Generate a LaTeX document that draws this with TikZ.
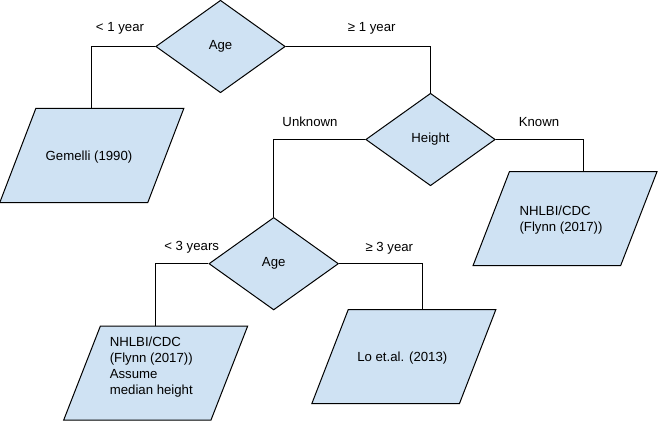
\documentclass[tikz,border=0pt]{standalone}
\usepackage{fontspec}
\setmainfont{Liberation Sans}
\usetikzlibrary{shapes.geometric,calc,backgrounds}
\definecolor{boxfill}{HTML}{CFE2F3}
\newcommand\paraback[2]{%
  \begin{scope}[on background layer]
    \filldraw[parashape] ($(#1.north west)+(#2,0)$) -- (#1.north east) -- ($(#1.south east)+(-#2,0)$) -- (#1.south west) -- cycle;
  \end{scope}}
\begin{document}
\begin{tikzpicture}[x=1pt,y=-1pt,
  font=\fontsize{13.2}{16}\selectfont,
  line width=1pt,
  decision/.style={diamond, draw=black, fill=boxfill, minimum width=129.5pt, minimum height=92.5pt, inner sep=0pt},
  parabox/.style={draw=none, minimum width=183pt, minimum height=93pt, inner sep=0pt},
  parashape/.style={draw=black, fill=boxfill, line width=1pt},
  txt/.style={inner sep=0pt, align=left},
  lbl/.style={inner sep=0pt}]
\useasboundingbox (0,0) rectangle (669,433);

% decisions
\node[decision] (age1) at (220.5,46.5) {Age};
\node[decision] (height) at (430.5,139.5) {Height};
\node[decision] (age2) at (273.7,263.7) {Age};

% parallelogram holders
\node[parabox] (gem) at (91.8,155.5) {};
\node[parabox] (nr) at (565,218.7) {};
\node[parabox] (ll) at (155.7,373) {};
\node[parabox] (lo) at (403.8,356.7) {};
\paraback{gem}{36}
\paraback{nr}{36.4}
\paraback{ll}{36.7}
\paraback{lo}{36.4}

% texts
\node[txt] (tgem) at (89,157) {Gemelli (1990)};
\node[txt] (tnr) at (561,220) {NHLBI/CDC\\(Flynn (2017))};
\node[txt] (tll) at (151.3,367) {NHLBI/CDC\\(Flynn (2017))\\Assume\\median height};
\node[txt] (tlo) at (402.3,357.7) {Lo et.al. (2013)};

% connectors
\draw (age1.west) -| (gem.north);
\draw (age1.east) -| (height.north);
\draw (height.west) -| (age2.north);
\draw (height.east) -| ($(nr.north)+(18.3,0)$);
\draw (age2.west) -| (ll.north);
\draw (age2.east) -| ($(lo.north)+(18.5,0)$);

% labels
\node[lbl] (l1) at (120,28) {< 1 year};
\node[lbl] (l2) at (371.7,28) {≥ 1 year};
\node[lbl] (l3) at (310,121.5) {Unknown};
\node[lbl] (l4) at (539,121.7) {Known};
\node[lbl] (l5) at (191.7,247.3) {< 3 years};
\node[lbl] (l6) at (389.3,248.3) {≥ 3 year};
\end{tikzpicture}
\end{document}
